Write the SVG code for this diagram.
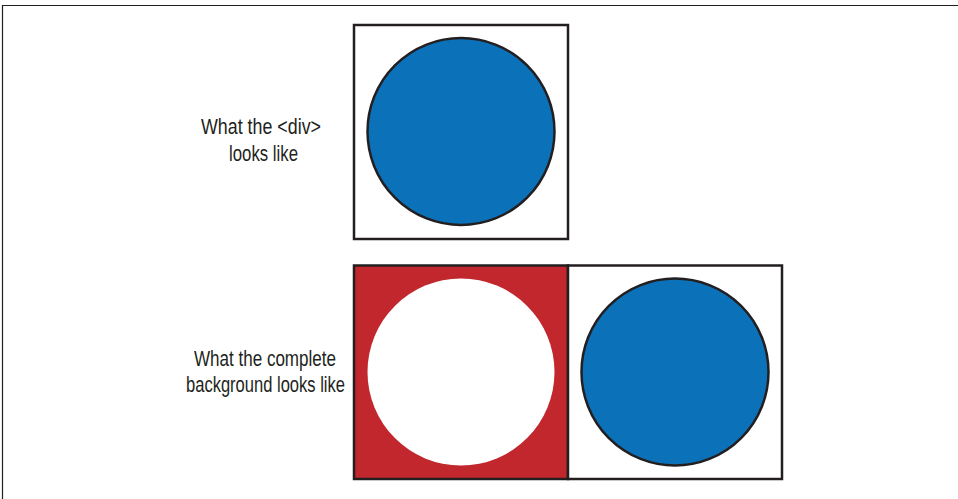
<svg xmlns="http://www.w3.org/2000/svg" width="958" height="499" viewBox="0 0 958 499">
<style>
.box{fill:#fff;stroke:#231f20;stroke-width:2.5}
.blue{fill:#0b72b9;stroke:#231f20;stroke-width:2.5}
.lbl{font-family:"Liberation Sans",Arial,sans-serif;font-size:22px;fill:#231f20}
</style>
<rect width="958" height="499" fill="#fff"/>
<path d="M2.5 499V5.5H958" fill="none" stroke="#231f20" stroke-width="1.2"/>
<g id="div-view">
<rect class="box" x="354" y="25" width="214" height="214"/>
<circle class="blue" cx="461" cy="131.5" r="93.5"/>
</g>
<g id="label-div">
<text class="lbl" x="201" y="134" textLength="120" lengthAdjust="spacingAndGlyphs">What the &lt;div&gt;</text>
<text class="lbl" x="229" y="161" textLength="69" lengthAdjust="spacingAndGlyphs">looks like</text>
</g>
<g id="bg-left">
<rect x="354" y="265.5" width="214" height="213.5" fill="#c1272d" stroke="#231f20" stroke-width="2.5"/>
<circle cx="461" cy="372" r="93.5" fill="#fff"/>
</g>
<g id="bg-right">
<rect class="box" x="568" y="265.5" width="214" height="213.5"/>
<circle class="blue" cx="675" cy="372" r="93.5"/>
</g>
<g id="label-bg">
<text class="lbl" x="194" y="366" textLength="142" lengthAdjust="spacingAndGlyphs">What the complete</text>
<text class="lbl" x="186" y="392" textLength="159" lengthAdjust="spacingAndGlyphs">background looks like</text>
</g>
<g id="connectors"/>
</svg>
